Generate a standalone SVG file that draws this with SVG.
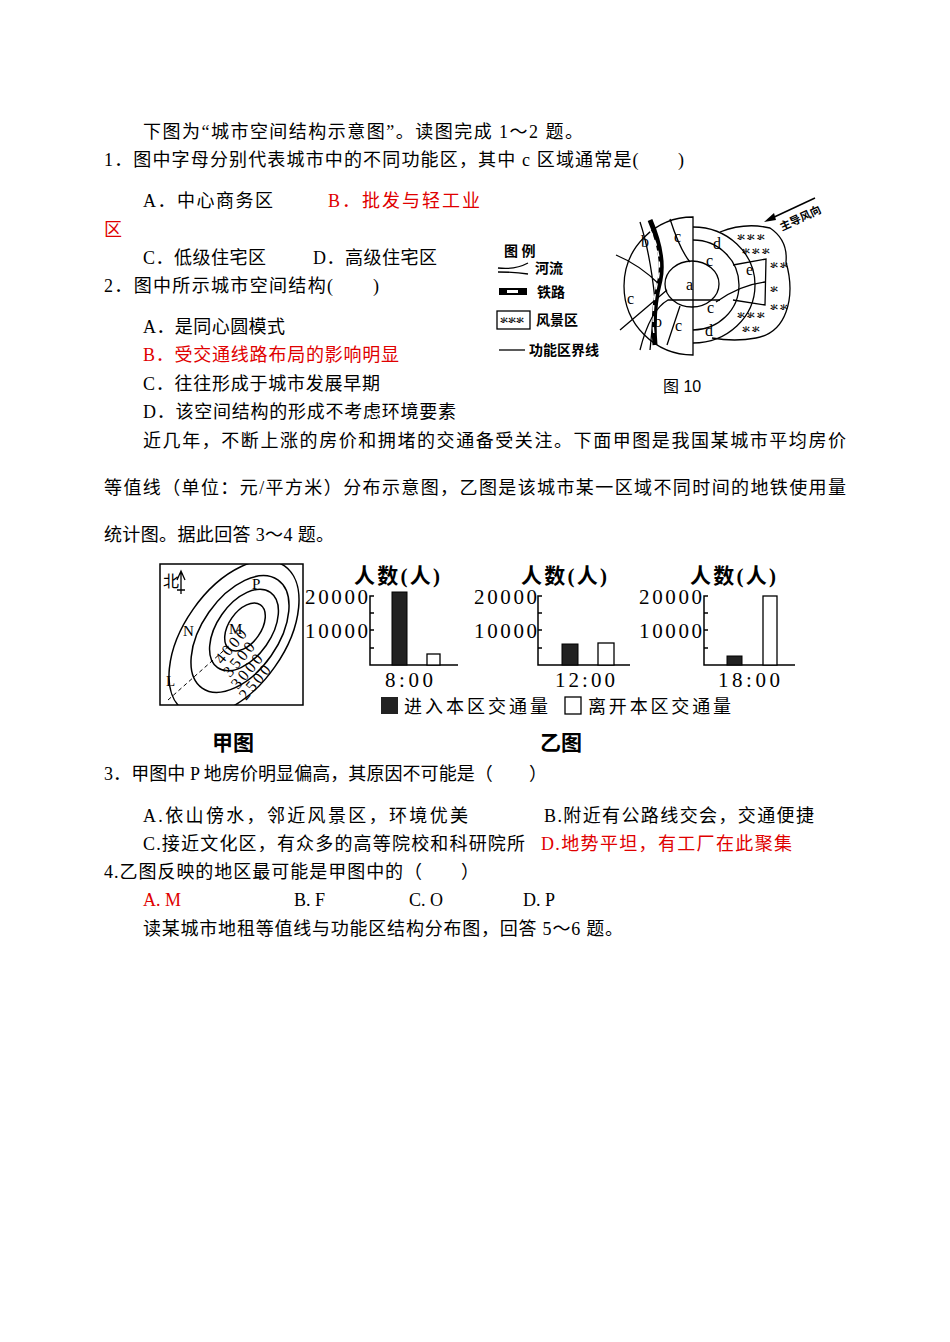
<svg xmlns="http://www.w3.org/2000/svg" width="950" height="1342" viewBox="0 0 950 1342">
<style>
.t{font-family:"Liberation Serif","Noto Sans CJK SC",serif;font-size:18px;fill:#000}
.r{fill:#e00000}
.s{font-family:"Liberation Serif","Noto Sans CJK SC",serif;fill:#000}
.ln{fill:none;stroke:#000;stroke-width:1.5}
.k{fill:none;stroke:#000;stroke-width:1.3}
.g{font-family:"Noto Sans CJK SC",sans-serif;font-size:8px;font-weight:bold}
</style>
<rect width="950" height="1342" fill="#fff"/>
<g id="text">
<text class="t" x="143" y="138" textLength="440">下图为“城市空间结构示意图”。读图完成 1～2 题。</text>
<text class="t" x="104" y="166" textLength="580">1．图中字母分别代表城市中的不同功能区，其中 c 区域通常是(　　)</text>
<text class="t" x="143" y="207" textLength="130">A．中心商务区</text>
<text class="t r" x="328" y="207" textLength="152">B．批发与轻工业</text>
<text class="t r" x="104" y="236">区</text>
<text class="t" x="143" y="264" textLength="123">C．低级住宅区</text>
<text class="t" x="313" y="264" textLength="124">D．高级住宅区</text>
<text class="t" x="104" y="292" textLength="275">2．图中所示城市空间结构(　　)</text>
<text class="t" x="143" y="333" textLength="142">A．是同心圆模式</text>
<text class="t r" x="143" y="361" textLength="256">B．受交通线路布局的影响明显</text>
<text class="t" x="143" y="390" textLength="237">C．往往形成于城市发展早期</text>
<text class="t" x="143" y="418" textLength="313">D．该空间结构的形成不考虑环境要素</text>
<text class="t" x="143" y="447" textLength="703">近几年，不断上涨的房价和拥堵的交通备受关注。下面甲图是我国某城市平均房价</text>
<text class="t" x="104" y="494" textLength="742">等值线（单位：元/平方米）分布示意图，乙图是该城市某一区域不同时间的地铁使用量</text>
<text class="t" x="104" y="541" textLength="230">统计图。据此回答 3～4 题。</text>
<text class="t" x="104" y="780" textLength="443">3．甲图中 P 地房价明显偏高，其原因不可能是（　　）</text>
<text class="t" x="143" y="822" textLength="325">A.依山傍水，邻近风景区，环境优美</text>
<text class="t" x="544" y="822" textLength="270">B.附近有公路线交会，交通便捷</text>
<text class="t" x="143" y="850" textLength="382">C.接近文化区，有众多的高等院校和科研院所</text>
<text class="t r" x="541" y="850" textLength="251">D.地势平坦，有工厂在此聚集</text>
<text class="t" x="104" y="878" textLength="375">4.乙图反映的地区最可能是甲图中的（　　）</text>
<text class="t r" x="143" y="906">A. M</text>
<text class="t" x="294" y="906">B. F</text>
<text class="t" x="409" y="906">C. O</text>
<text class="t" x="523" y="906">D. P</text>
<text class="t" x="143" y="935" textLength="480">读某城市地租等值线与功能区结构分布图，回答 5～6 题。</text>
</g>
<g id="fig10">
<text class="s" x="504" y="256" font-size="14" font-weight="bold">图  例</text>
<path class="k" d="M498 268 Q515 270 528 263 M498 272 Q515 272 528 274"/>
<text class="s" x="535" y="273" font-size="14" font-weight="bold">河流</text>
<rect x="499" y="288" width="28" height="7" fill="#000"/><rect x="507" y="290" width="11" height="3" fill="#fff"/>
<text class="s" x="537" y="297" font-size="14" font-weight="bold">铁路</text>
<rect x="497" y="311" width="33" height="18" fill="none" stroke="#000" stroke-width="1.3"/>
<text class="g" x="500" y="323">氺氺氺</text>
<text class="s" x="536" y="325" font-size="14" font-weight="bold">风景区</text>
<line x1="499" y1="350" x2="525" y2="350" stroke="#000" stroke-width="1.3"/>
<text class="s" x="529" y="355" font-size="14" font-weight="bold">功能区界线</text>
<path class="k" d="M720 232 Q745 222 770 228 Q788 240 786 262 Q794 290 786 312 Q778 334 756 338 Q735 342 712 338" fill="#fff"/>
<text class="g" x="737" y="240">氺 氺 氺</text>
<text class="g" x="742" y="254">氺 氺 氺</text>
<text class="g" x="770" y="268">氺 氺</text>
<text class="g" x="770" y="292">氺</text>
<text class="g" x="770" y="310">氺 氺</text>
<text class="g" x="737" y="318">氺 氺 氺</text>
<text class="g" x="742" y="332">氺 氺</text>
<path class="k" d="M693 217 A69 69 0 0 0 693 355 Z" fill="#fff"/>
<path class="k" d="M693 227 A62 58 0 0 1 693 343" fill="#fff"/>
<path class="k" d="M693 240 A46 45 0 0 1 693 330"/>
<ellipse class="k" cx="692" cy="284" rx="27" ry="23" fill="#fff"/>
<path class="k" d="M733 265 L766 259 L765 305 L733 300" fill="#fff"/>
<path class="k" d="M716 302 Q740 285 765 282"/>
<path class="k" d="M616 255 Q640 265 660 285 M620 330 L667 290 M670 219 Q680 250 690 262 M667 345 L680 306 M640 222 Q650 252 655 300 Q652 330 650 350"/>
<path d="M650 220 Q665 255 660 280 Q652 310 655 345" fill="none" stroke="#000" stroke-width="5"/>
<path d="M650 230 Q663 255 658 280 Q651 310 654 335" fill="none" stroke="#fff" stroke-width="1.5" stroke-dasharray="6 5"/>
<path class="k" d="M640 350 Q650 310 668 300 L720 300"/>
<g class="s" font-size="16">
<text x="641" y="247">b</text>
<text x="674" y="242">c</text>
<text x="713" y="249">d</text>
<text x="706" y="266">c</text>
<text x="686" y="290">a</text>
<text x="746" y="275">e</text>
<text x="627" y="304">c</text>
<text x="654" y="327">b</text>
<text x="675" y="331">c</text>
<text x="707" y="313">c</text>
<text x="705" y="336">d</text>
</g>
<path d="M815 198 L770 219" stroke="#000" stroke-width="1.5"/><path d="M764 222 L774 213 L776 220 Z"/>
<text class="s" x="782" y="231" font-size="11" font-weight="bold" transform="rotate(-25 782 231)">主导风向</text>
<text x="663" y="392" font-family="Liberation Sans,Noto Sans CJK SC,sans-serif" font-size="16">图 10</text>
</g>
<g id="jia">
<clipPath id="bx"><rect x="160" y="564" width="143" height="141"/></clipPath>
<rect x="160" y="564" width="143" height="141" fill="none" stroke="#000" stroke-width="1.5"/>
<text class="s" x="163" y="587" font-size="16">北</text>
<path d="M181 594 L181 572 M177 580 L181 571 L185 580 M177 590 L185 590" stroke="#000" stroke-width="1.3" fill="none"/>
<g clip-path="url(#bx)" class="ln">
<ellipse cx="234" cy="638" rx="88" ry="50" transform="rotate(-55 234 638)"/>
<ellipse cx="240" cy="634" rx="66" ry="38" transform="rotate(-55 240 634)"/>
<ellipse cx="244" cy="630" rx="46" ry="27" transform="rotate(-55 244 630)"/>
<ellipse cx="245" cy="627" rx="27" ry="16" transform="rotate(-55 245 627)"/>
</g>
<path d="M168 700 L230 645" stroke="#000" stroke-width="1" stroke-dasharray="4 3"/>
<text class="s" x="252" y="589" font-size="15">P</text>
<text class="s" x="183" y="636" font-size="15">N</text>
<text class="s" x="229" y="634" font-size="15">M</text>
<text class="s" x="166" y="686" font-size="15">L</text>
<g class="s" font-size="16">
<text x="222" y="665" textLength="40" transform="rotate(-50 222 665)">4000</text>
<text x="230" y="678" textLength="40" transform="rotate(-50 230 678)">3500</text>
<text x="238" y="690" textLength="40" transform="rotate(-50 238 690)">3000</text>
<text x="246" y="701" textLength="40" transform="rotate(-50 246 701)">2500</text>
</g>
<text class="s" x="212" y="750" font-size="21" font-weight="bold">甲图</text>
</g>
<g id="yi" class="s">
<g font-size="21">
<text x="354" y="583" font-weight="bold" textLength="86">人数(人)</text>
<text x="305" y="604" textLength="63">20000</text><text x="305" y="638" textLength="63">10000</text>
<text x="385" y="687" textLength="48">8:00</text>
<text x="521" y="583" font-weight="bold" textLength="86">人数(人)</text>
<text x="474" y="604" textLength="63">20000</text><text x="474" y="638" textLength="63">10000</text>
<text x="555" y="687" textLength="60">12:00</text>
<text x="690" y="583" font-weight="bold" textLength="86">人数(人)</text>
<text x="639" y="604" textLength="63">20000</text><text x="639" y="638" textLength="63">10000</text>
<text x="718" y="687" textLength="62">18:00</text>
</g>
<path class="ln" d="M374 596 L370 596 L370 665 L458 665 M370 613 L374 613 M370 630 L374 630 M370 648 L374 648"/>
<path class="ln" d="M542 596 L538 596 L538 665 L630 665 M538 613 L542 613 M538 630 L542 630 M538 648 L542 648"/>
<path class="ln" d="M708 596 L704 596 L704 665 L795 665 M704 613 L708 613 M704 630 L708 630 M704 648 L708 648"/>
<rect x="392" y="592" width="15" height="73" fill="#222" stroke="#000"/>
<rect x="427" y="654" width="13" height="11" fill="#fff" stroke="#000" stroke-width="1.3"/>
<rect x="562" y="644" width="16" height="21" fill="#222" stroke="#000"/>
<rect x="598" y="643" width="16" height="22" fill="#fff" stroke="#000" stroke-width="1.3"/>
<rect x="727" y="656" width="15" height="9" fill="#222" stroke="#000"/>
<rect x="763" y="596" width="14" height="69" fill="#fff" stroke="#000" stroke-width="1.3"/>
<rect x="381" y="697" width="17" height="17" fill="#222"/>
<text x="404" y="713" font-size="18" textLength="144">进入本区交通量</text>
<rect x="565" y="697" width="16" height="17" fill="#fff" stroke="#000" stroke-width="1.3"/>
<text x="588" y="713" font-size="18" textLength="143">离开本区交通量</text>
<text x="540" y="750" font-size="21" font-weight="bold">乙图</text>
</g>
</svg>
